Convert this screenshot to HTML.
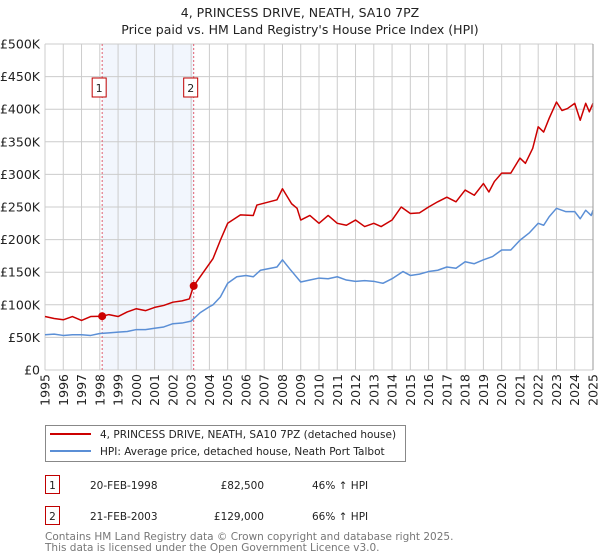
<!DOCTYPE html>
<html><head><meta charset="utf-8">
<style>
body{margin:0;background:#fff;font-family:"DejaVu Sans","Liberation Sans",sans-serif;}
#wrap{position:relative;width:600px;height:560px;overflow:hidden}
svg{position:absolute;left:0;top:0;font-family:"DejaVu Sans","Liberation Sans",sans-serif}
</style></head>
<body>
<div id="wrap">
<svg id="chart" width="600" height="560">
<text x="300" y="17" text-anchor="middle" font-size="12.5" fill="#222">4, PRINCESS DRIVE, NEATH, SA10 7PZ</text>
<text x="300" y="34" text-anchor="middle" font-size="12.5" fill="#222">Price paid vs. HM Land Registry's House Price Index (HPI)</text>
</svg>
</div>
<script>
const hpiYears=[1995,1995.5,1996,1996.5,1997,1997.5,1998,1998.5,1999,1999.5,2000,2000.5,2001,2001.5,2002,2002.5,2003,2003.5,2004,2004.2,2004.6,2005,2005.5,2006,2006.4,2006.8,2007.7,2008,2008.4,2009,2009.5,2010,2010.5,2011,2011.5,2012,2012.5,2013,2013.5,2014,2014.6,2015,2015.5,2016,2016.5,2017,2017.5,2018,2018.5,2019,2019.5,2020,2020.5,2021,2021.5,2022,2022.3,2022.6,2023,2023.5,2024,2024.3,2024.6,2024.9,2025];
const hpiValues=[54,55,53,54,54,53,56,57,58,59,62,62,64,66,71,72,75,88,97,100,112,133,143,145,143,153,158,169,155,135,138,141,140,143,138,136,137,136,133,140,151,145,147,151,153,158,156,166,163,169,174,184,184,199,210,225,222,235,248,243,243,232,245,237,245];
const priceYears=[1995,1995.5,1996,1996.5,1997,1997.5,1998.13,1998.5,1999,1999.5,2000,2000.5,2001,2001.5,2002,2002.5,2002.9,2003.14,2004.2,2004.6,2005,2005.7,2006.4,2006.6,2007.7,2008,2008.5,2008.8,2009,2009.5,2010,2010.5,2011,2011.5,2012,2012.5,2013,2013.4,2014,2014.5,2015,2015.5,2016,2016.5,2017,2017.5,2018,2018.5,2019,2019.3,2019.6,2020,2020.5,2021,2021.3,2021.7,2022,2022.3,2022.6,2023,2023.3,2023.6,2024,2024.3,2024.6,2024.8,2025];
const priceValues=[82,79,77,82,76,82,82.5,85,82,89,94,91,96,99,104,106,109,129,171,199,225,238,237,253,261,278,255,248,230,237,225,237,225,222,230,220,225,220,230,250,240,241,250,258,265,258,276,268,286,273,289,302,302,325,317,340,373,365,386,411,398,401,409,383,409,396,409];
const saleYears=[1998.13,2003.14];
const saleValues=[82500,129000];
const saleLabels=["1","2"];
const yTicks=[0,50,100,150,200,250,300,350,400,450,500];
const yTickLabels=["£0","£50K","£100K","£150K","£200K","£250K","£300K","£350K","£400K","£450K","£500K"];
const xTicks=[1995,1996,1997,1998,1999,2000,2001,2002,2003,2004,2005,2006,2007,2008,2009,2010,2011,2012,2013,2014,2015,2016,2017,2018,2019,2020,2021,2022,2023,2024,2025];

const NS="http://www.w3.org/2000/svg";
const svg=document.getElementById('chart');
const X0=45,X1=593,Y0=370,Y1=44;
const xs=y=>X0+(y-1995)/30*(X1-X0);
const ys=v=>Y0-v/500*(Y0-Y1);
function mk(tag,attrs,parent){const e=document.createElementNS(NS,tag);for(const k in attrs)e.setAttribute(k,attrs[k]);(parent||svg).appendChild(e);return e;}

const shade=mk('rect',{x:xs(saleYears[0]),y:Y1,width:xs(saleYears[1])-xs(saleYears[0]),height:Y0-Y1,fill:'#f2f6fd'});



yTicks.forEach((t,i)=>{
  const g=mk('line',{x1:X0,x2:X1,y1:ys(t),y2:ys(t),stroke:'#cccccc','stroke-width':1});
  
  
  const l=mk('text',{x:40,y:ys(t)+4.5,'text-anchor':'end','font-size':12.5,fill:'#222'});
  l.textContent=yTickLabels[i];
  
  
});
xTicks.forEach(t=>{
  const g=mk('line',{x1:xs(t),x2:xs(t),y1:Y1,y2:Y0,stroke:'#cccccc','stroke-width':1});
  
  
  const l=mk('text',{x:0,y:0,'text-anchor':'end','font-size':12.5,fill:'#222',transform:`translate(${xs(t)+4.5},${Y0+4}) rotate(-90)`});
  l.textContent=t;
  
  
});

saleYears.forEach((y,i)=>{
  const v=mk('line',{x1:xs(y),x2:xs(y),y1:Y1,y2:Y0,stroke:'#e06070','stroke-width':1,'stroke-dasharray':'2,2'});
  
  
  const b=mk('rect',{x:xs(y)-10,y:78,width:14,height:19,fill:'#fff',stroke:'#c00000','stroke-width':1});
  
  
  const t=mk('text',{x:xs(y)-3,y:92,'text-anchor':'middle','font-size':11,fill:'#222'});
  t.textContent=saleLabels[i];
  
  
});

const hp=mk('polyline',{points:hpiYears.map((y,i)=>xs(y)+','+ys(hpiValues[i])).join(' '),fill:'none',stroke:'#5b8fd6','stroke-width':1.5,'stroke-linejoin':'round'});


const pp=mk('polyline',{points:priceYears.map((y,i)=>xs(y)+','+ys(priceValues[i])).join(' '),fill:'none',stroke:'#cc0000','stroke-width':1.5,'stroke-linejoin':'round'});


saleYears.forEach((y,i)=>{
  const c=mk('circle',{cx:xs(y),cy:ys(saleValues[i]/1000),r:4,fill:'#cc0000'});
  
  
});
const ax=mk('line',{x1:X1,x2:X1,y1:Y1,y2:Y0,stroke:'#999','stroke-width':1});



const lg=mk('g',{});


mk('rect',{x:45.5,y:425.5,width:360,height:36,fill:'#fff',stroke:'#888'},lg);
mk('line',{x1:50,x2:91,y1:434,y2:434,stroke:'#cc0000','stroke-width':2},lg);
mk('line',{x1:50,x2:91,y1:451,y2:451,stroke:'#5b8fd6','stroke-width':2},lg);
const l1=mk('text',{x:100,y:438,'font-size':10.5,fill:'#222'},lg);
l1.textContent='4, PRINCESS DRIVE, NEATH, SA10 7PZ (detached house)';


const l2=mk('text',{x:100,y:455,'font-size':10.5,fill:'#222'},lg);
l2.textContent='HPI: Average price, detached house, Neath Port Talbot';



const rows=[["1","20-FEB-1998","£82,500","46% ↑ HPI",482],["2","21-FEB-2003","£129,000","66% ↑ HPI",513]];
rows.forEach(r=>{
  const g=mk('g',{});
  
  
  mk('rect',{x:45.5,y:r[4]-6.5,width:14,height:18,fill:'#fff',stroke:'#c00000'},g);
  const a=mk('text',{x:52.5,y:r[4]+7,'text-anchor':'middle','font-size':10.5,fill:'#222'},g);a.textContent=r[0];
  const b=mk('text',{x:90,y:r[4]+7,'font-size':10.5,fill:'#222'},g);b.textContent=r[1];
  const c=mk('text',{x:264,y:r[4]+7,'text-anchor':'end','font-size':10.5,fill:'#222'},g);c.textContent=r[2];
  const d=mk('text',{x:312,y:r[4]+7,'font-size':10.5,fill:'#222'},g);d.textContent=r[3];
});
const f1=mk('text',{x:45,y:540,'font-size':10.5,fill:'#777'});
f1.textContent='Contains HM Land Registry data © Crown copyright and database right 2025.';


const f2=mk('text',{x:45,y:551,'font-size':10.5,fill:'#777'});
f2.textContent='This data is licensed under the Open Government Licence v3.0.';


</script>
</body></html>
